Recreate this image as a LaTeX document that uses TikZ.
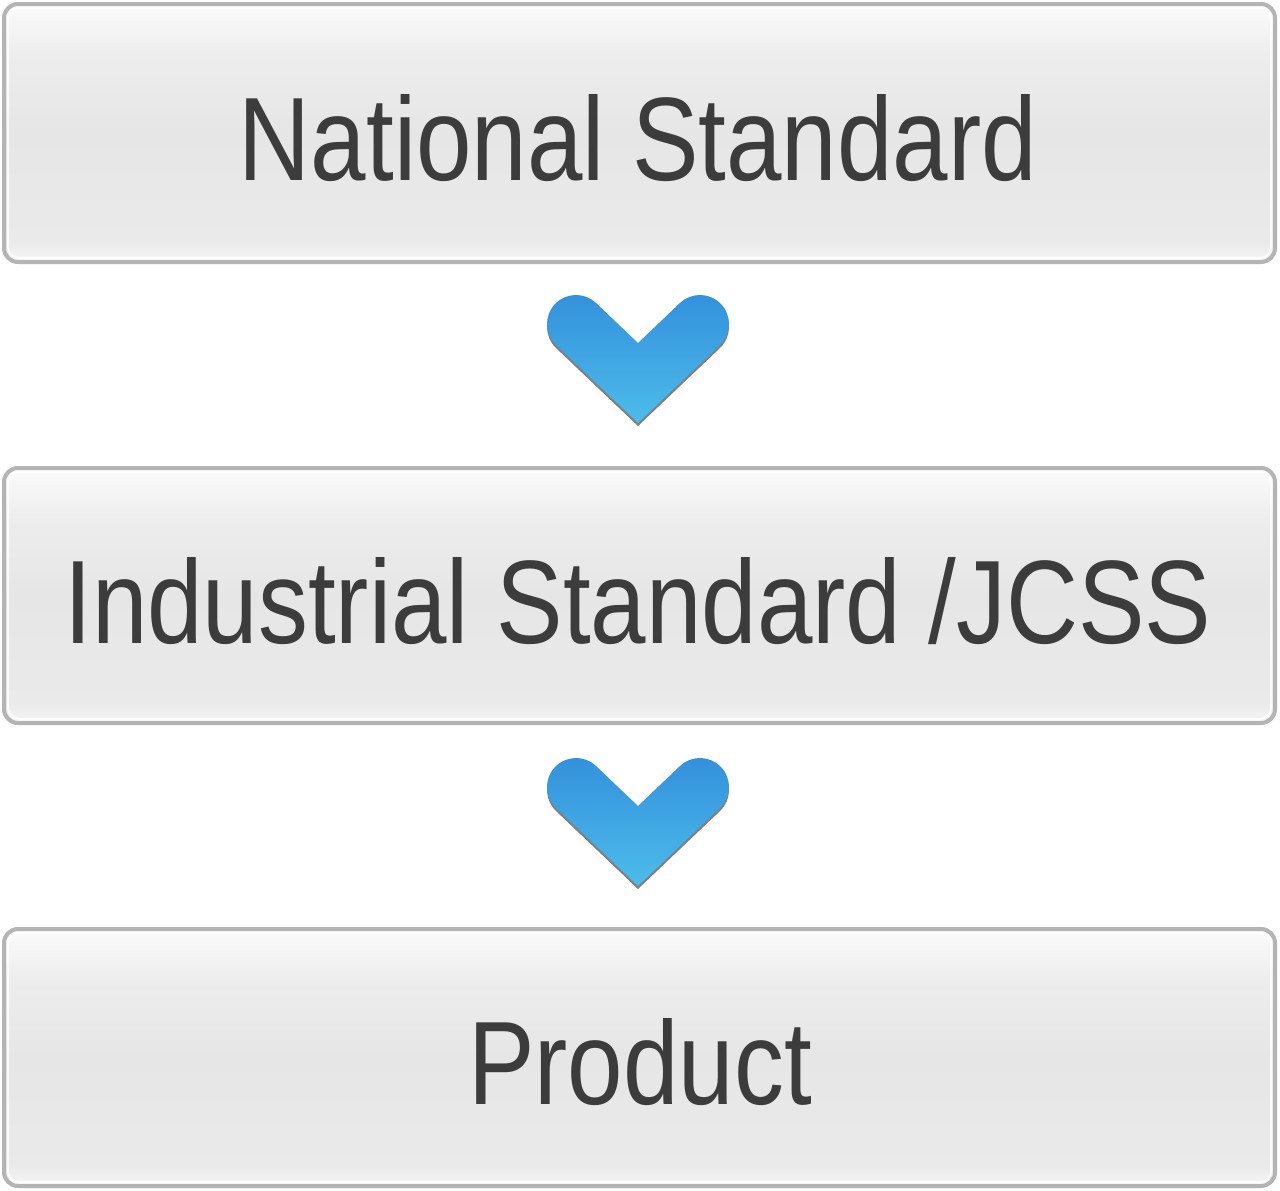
\documentclass[tikz,border=0pt]{standalone}
\usepackage{fontspec}
\usepackage{graphicx}
\newfontfamily\labfont[FakeStretch=0.84]{Liberation Sans}
\definecolor{boxline}{HTML}{B4B4B4}
\definecolor{labtext}{HTML}{3C3C3C}
\definecolor{chevtop}{HTML}{3390DC}
\definecolor{chevbot}{HTML}{4CBCE9}
\definecolor{bA}{HTML}{FBFBFB}
\definecolor{bB}{HTML}{EDEDED}
\definecolor{bC}{HTML}{E6E6E6}
\definecolor{bD}{HTML}{EAEAEA}
\definecolor{bE}{HTML}{F6F6F6}
\pgfdeclareverticalshading{boxshade}{100bp}{color(0bp)=(bE); color(25bp)=(bE); color(29bp)=(bD); color(50bp)=(bC); color(65bp)=(bB); color(75bp)=(bA); color(100bp)=(bA)}
\tikzset{
  box/.style={draw=boxline, line width=4pt, rounded corners=14pt, shading=boxshade,
    minimum width=1271pt, inner sep=0pt, outer sep=0pt},
  hilite/.style={draw=white, line width=2pt, rounded corners=11pt, opacity=0.85},
  lab/.style={anchor=base, inner sep=0pt, text=labtext, font=\labfont\fontsize{118.7}{120}\selectfont},
  chevshadow/.style={fill=black, opacity=0.5},
  chevfill/.style={top color=chevtop, bottom color=chevbot}
}
\def\chevron{(638,423) -- (556,345) arc[start angle=133.6,end angle=313.6,radius=29] -- (638,343) -- (680,303) arc[start angle=226.4,end angle=406.4,radius=29] -- cycle}
\begin{document}
\begin{tikzpicture}[x=1pt,y=-1pt]
\useasboundingbox (0,0) rectangle (1280,1191);
\fill[white] (0,0) rectangle (1280,1191);
% boxes
\node[box, minimum height=258pt] (b1) at (639.5,133) {};
\node[box, minimum height=255pt] (b2) at (639.5,595.5) {};
\node[box, minimum height=257pt] (b3) at (639.5,1057.5) {};
\foreach \b in {b1,b2,b3}{
  \draw[hilite] ([shift={(4pt,-4pt)}]\b.north west) rectangle ([shift={(-4pt,4pt)}]\b.south east);
}
% labels
\node[lab] (t1) at (638,180) {National Standard};
\node[lab] (t2) at (638,643) {Industrial Standard /JCSS};
\node[lab] (t3) at (640,1104) {Product};
% chevrons
\begin{scope}
  \fill[chevshadow] [yshift=-3pt] \chevron;
  \path[chevfill] \chevron;
\end{scope}
\begin{scope}[shift={(0,463)}]
  \fill[chevshadow] [yshift=-3pt] \chevron;
  \path[chevfill] \chevron;
\end{scope}
\end{tikzpicture}
\end{document}
